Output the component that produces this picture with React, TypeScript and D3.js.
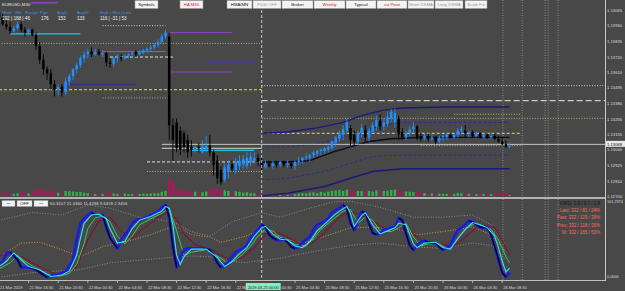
import React from "react";
import * as d3 from "d3";

// ---------- DATA ----------
const opens = [
  1.1405, 1.1401, 1.1396, 1.1394, 1.1391, 1.1393, 1.1396, 1.1392, 1.139, 1.1392,
  1.1388, 1.138, 1.137, 1.1363, 1.136, 1.1352, 1.1348, 1.135, 1.1346, 1.1354,
  1.1358, 1.1363, 1.1366, 1.1371, 1.1374, 1.1376, 1.1374, 1.1376, 1.1374, 1.1375,
  1.1368, 1.1367, 1.1371, 1.1372, 1.1371, 1.1373, 1.1374, 1.1376, 1.1374, 1.1375,
  1.1377, 1.1378, 1.1379, 1.1381, 1.1383, 1.1387, 1.1387, 1.1322, 1.1324, 1.1318,
  1.1316, 1.1311, 1.1306, 1.1304, 1.1306, 1.1302, 1.1304, 1.1307, 1.1302, 1.1296,
  1.1289, 1.1282, 1.1288, 1.1293, 1.1289, 1.1292, 1.1293, 1.1292, 1.1295, 1.1296,
  1.1298, 1.1295, 1.1291, 1.1294, 1.1292, 1.1294, 1.1293, 1.1295, 1.1293, 1.1294,
  1.1292, 1.1295, 1.1296, 1.1298, 1.1298, 1.13, 1.1301, 1.1303, 1.1303, 1.1304,
  1.1305, 1.1309, 1.1312, 1.1315, 1.1318, 1.132, 1.1315, 1.131, 1.1316, 1.1318,
  1.1313, 1.1317, 1.1321, 1.1325, 1.1321, 1.1323, 1.1327, 1.1324, 1.1327, 1.1317,
  1.1313, 1.1316, 1.1319, 1.1321, 1.1314, 1.1312, 1.1314, 1.1312, 1.1313, 1.131,
  1.1313, 1.1313, 1.1315, 1.1313, 1.1315, 1.1318, 1.1318, 1.1316, 1.1317, 1.1314,
  1.1316, 1.1313, 1.1315, 1.1313, 1.1314, 1.1312, 1.131, 1.1308, 1.1306,
];
const highs = [
  1.1408, 1.1404, 1.1399, 1.1398, 1.1395, 1.1398, 1.1398, 1.1394, 1.1393, 1.1393,
  1.139, 1.1383, 1.1374, 1.1365, 1.1363, 1.1355, 1.1352, 1.1352, 1.1357, 1.136,
  1.1364, 1.1368, 1.1373, 1.1376, 1.1378, 1.1379, 1.1378, 1.1378, 1.1377, 1.1376,
  1.1371, 1.1372, 1.1374, 1.1374, 1.1374, 1.1375, 1.1376, 1.1377, 1.1377, 1.1378,
  1.1379, 1.1381, 1.1382, 1.1385, 1.1389, 1.1392, 1.139, 1.1327, 1.1327, 1.1321,
  1.1318, 1.1315, 1.1311, 1.1307, 1.1309, 1.1311, 1.1314, 1.1315, 1.1304, 1.13,
  1.1292, 1.1294, 1.1296, 1.1296, 1.1298, 1.13, 1.13, 1.1302, 1.1302, 1.1302,
  1.1301, 1.1298, 1.1296, 1.1296, 1.1296, 1.1296, 1.1296, 1.1296, 1.1296, 1.1296,
  1.1296, 1.1299, 1.1299, 1.1301, 1.1301, 1.1303, 1.1304, 1.1305, 1.1306, 1.1307,
  1.1311, 1.1314, 1.1318, 1.1322, 1.1327, 1.1322, 1.1318, 1.1318, 1.1323, 1.1322,
  1.132, 1.1324, 1.1329, 1.133, 1.1327, 1.1332, 1.1334, 1.1334, 1.1329, 1.132,
  1.1318, 1.1321, 1.1324, 1.1322, 1.1316, 1.1316, 1.1316, 1.1315, 1.1314, 1.1314,
  1.1315, 1.1316, 1.1316, 1.1316, 1.132, 1.1321, 1.1322, 1.1318, 1.1318, 1.1317,
  1.1317, 1.1316, 1.1316, 1.1316, 1.1316, 1.1314, 1.1313, 1.1311, 1.1309,
];
const lows = [
  1.1399, 1.1395, 1.1392, 1.1389, 1.139, 1.1392, 1.139, 1.1387, 1.1388, 1.1387,
  1.1377, 1.1367, 1.1359, 1.1355, 1.1348, 1.1343, 1.1344, 1.1343, 1.1344, 1.1351,
  1.1355, 1.136, 1.1364, 1.1368, 1.1371, 1.1372, 1.1373, 1.1373, 1.1372, 1.1365,
  1.1364, 1.1365, 1.1368, 1.1369, 1.137, 1.1371, 1.1372, 1.1372, 1.1373, 1.1374,
  1.1375, 1.1376, 1.1378, 1.1379, 1.1382, 1.1385, 1.1311, 1.1296, 1.1302, 1.13,
  1.1302, 1.1298, 1.1299, 1.1302, 1.1302, 1.1301, 1.1302, 1.1299, 1.1285, 1.1279,
  1.1278, 1.128, 1.1283, 1.1288, 1.1286, 1.1289, 1.129, 1.129, 1.1292, 1.1294,
  1.1292, 1.1289, 1.129, 1.1291, 1.129, 1.1291, 1.1291, 1.1291, 1.1291, 1.129,
  1.1289, 1.1293, 1.1294, 1.1296, 1.1295, 1.1298, 1.1299, 1.13, 1.1301, 1.1302,
  1.1304, 1.1306, 1.131, 1.1311, 1.1316, 1.1307, 1.1307, 1.1308, 1.1313, 1.131,
  1.131, 1.1316, 1.1318, 1.1318, 1.1318, 1.1321, 1.1324, 1.132, 1.1311, 1.1311,
  1.1311, 1.1314, 1.1316, 1.1311, 1.131, 1.1311, 1.131, 1.131, 1.1308, 1.1309,
  1.131, 1.1311, 1.1312, 1.1312, 1.1313, 1.1315, 1.1313, 1.1313, 1.1313, 1.1313,
  1.1312, 1.1312, 1.1312, 1.1312, 1.1311, 1.1309, 1.1307, 1.1305, 1.1305,
];
const closes = [
  1.1401, 1.1396, 1.1394, 1.1391, 1.1393, 1.1396, 1.1392, 1.139, 1.1392, 1.1388,
  1.138, 1.137, 1.1363, 1.136, 1.1352, 1.1348, 1.135, 1.1346, 1.1354, 1.1358,
  1.1363, 1.1366, 1.1371, 1.1374, 1.1376, 1.1374, 1.1376, 1.1374, 1.1375, 1.1368,
  1.1367, 1.1371, 1.1372, 1.1371, 1.1373, 1.1374, 1.1375, 1.1374, 1.1376, 1.1377,
  1.1378, 1.1379, 1.1381, 1.1383, 1.1387, 1.139, 1.1322, 1.1311, 1.1305, 1.1304,
  1.1306, 1.1302, 1.1304, 1.1306, 1.1305, 1.1307, 1.1307, 1.1302, 1.1293, 1.1283,
  1.128, 1.1291, 1.1293, 1.129, 1.1295, 1.1296, 1.1297, 1.1298, 1.1299, 1.1298,
  1.1295, 1.1291, 1.1294, 1.1292, 1.1294, 1.1293, 1.1295, 1.1293, 1.1294, 1.1292,
  1.1295, 1.1296, 1.1298, 1.1299, 1.13, 1.1302, 1.1303, 1.1304, 1.1305, 1.1306,
  1.131, 1.1313, 1.1316, 1.1319, 1.1324, 1.1311, 1.131, 1.1316, 1.132, 1.1313,
  1.1318, 1.1322, 1.1326, 1.1321, 1.1324, 1.1328, 1.1332, 1.1331, 1.1315, 1.1313,
  1.1316, 1.1319, 1.1321, 1.1313, 1.1312, 1.1314, 1.1312, 1.1313, 1.131, 1.1313,
  1.1314, 1.1315, 1.1313, 1.1315, 1.1318, 1.1319, 1.1316, 1.1317, 1.1314, 1.1316,
  1.1313, 1.1315, 1.1313, 1.1314, 1.1312, 1.131, 1.1308, 1.1306, 1.13068,
];
const volumes = [
  150, 200, 180, 220, 140, 160, 250, 200, 150, 260,
  380, 420, 350, 300, 320, 280,
  200, 180, 300, 280, 260, 240, 230, 200, 180,
  150, 120, 140, 130, 200, 180, 150, 130, 120, 140, 110, 120, 130, 120, 140, 130, 150, 160, 170, 250, 300,
  1000, 850, 400, 350, 300, 320, 280, 250, 200, 220, 260, 380, 450, 420, 350, 330, 300, 260, 280, 250, 200, 220, 180, 160, 150, 100,
  60, 80, 70, 60, 90, 80, 70, 100, 120, 150, 180, 160, 200, 220, 180, 240, 200, 260,
  300, 320, 350, 300, 380, 360, 340, 300, 280, 320, 290, 260, 330, 350, 300, 310, 360, 380, 400,
  300, 260, 250, 230, 280, 220, 180, 170, 150, 160, 140, 130, 120, 110, 130, 180, 160, 150, 140, 120, 110, 130, 120, 100, 110, 140, 170, 200, 180, 60,
];

const priceTicks = [1.14065, 1.1395, 1.13835, 1.1372, 1.1361, 1.13495, 1.1338, 1.13265, 1.13155, 1.1304, 1.12925, 1.1281, 1.127];
const lastPrice = 1.13068;
const oscTopLabel = "101.2374";
const oscBottomLabel = "0.0000";

const timeLabels: [number, string][] = [
  [0, "21 Mar 2019"], [8, "21 Mar 16:30"], [16, "21 Mar 20:30"], [24, "22 Mar 00:30"],
  [32, "22 Mar 04:30"], [40, "22 Mar 08:30"], [48, "22 Mar 12:30"], [56, "22 Mar 16:30"],
  [80, "25 Mar 04:30"], [88, "25 Mar 08:30"],
  [96, "25 Mar 12:30"], [104, "25 Mar 16:30"], [112, "25 Mar 20:30"], [120, "26 Mar 00:30"],
  [128, "26 Mar 04:30"], [136, "26 Mar 08:30"],
];
// labels partly hidden behind the highlighted week-start label: visible fragments
const hiddenLabelBefore: [number, string] = [64, "22 M"];
const hiddenLabelAfter: [number, string] = [72, "00:30"];
const weekStartBar = 71;
const weekStartLabel = "2019.03.25 00:00";
const futureMarkers = [136.2, 141.4, 147.6, 148.4, 151.1];

const levels = [
  { price: 1.1412, from: 9, to: 16, kind: "purple" },
  { price: 1.1395, from: 28, to: 45, kind: "whiteDot" },
  { price: 1.139, from: 46, to: 63, kind: "purple" },
  { price: 1.1389, from: 3, to: 22, kind: "cyan" },
  { price: 1.1382, from: 0, to: 71, kind: "khakiDot" },
  { price: 1.1376, from: 28, to: 45, kind: "mauve" },
  { price: 1.1372, from: 30, to: 47, kind: "whiteDash" },
  { price: 1.1368, from: 55, to: 70, kind: "navyDash" },
  { price: 1.1361, from: 46, to: 63, kind: "purple" },
  { price: 1.1352, from: 19, to: 37, kind: "navy" },
  { price: 1.1351, from: 71, to: 164, kind: "whiteDot" },
  { price: 1.1348, from: 0, to: 71, kind: "yellowDash" },
  { price: 1.1342, from: 28, to: 46, kind: "grayDot" },
  { price: 1.134, from: 71, to: 164, kind: "longDash" },
  { price: 1.133, from: 123, to: 141, kind: "khakiDot" },
  { price: 1.1327, from: 71, to: 164, kind: "khakiDot" },
  { price: 1.1316, from: 71, to: 141, kind: "yellowDash" },
  { price: 1.1307, from: 114, to: 141, kind: "grayDot" },
  { price: 1.1305, from: 44, to: 71, kind: "white" },
  { price: 1.13035, from: 52, to: 69, kind: "cyan" },
  { price: 1.1295, from: 40, to: 71, kind: "whiteDash" },
  { price: 1.1288, from: 40, to: 71, kind: "khakiDot" },
];

const vwapUpper: [number, number][] = [[71, 1.1316], [78, 1.1317], [86, 1.132], [93, 1.1324], [98, 1.1329], [104, 1.1333], [109, 1.13346], [120, 1.13353], [138, 1.13353]];
const vwapMid: [number, number][] = [[71, 1.1295], [78, 1.1295], [84, 1.1296], [90, 1.1302], [95, 1.1306], [100, 1.131], [106, 1.1312], [115, 1.1313], [138, 1.1313]];
const vwapLower: [number, number][] = [[71, 1.127], [78, 1.1272], [88, 1.1277], [95, 1.1283], [101, 1.1288], [109, 1.129], [138, 1.129]];
const vwapUpperInner: [number, number][] = [[71, 1.1306], [78, 1.1306], [86, 1.1308], [93, 1.1313], [98, 1.1318], [104, 1.1322], [109, 1.1324], [138, 1.1324]];
const vwapLowerInner: [number, number][] = [[71, 1.1282], [78, 1.1283], [88, 1.1288], [95, 1.1294], [101, 1.1299], [109, 1.13], [138, 1.13]];

const fastLine: [number, number][] = [
  [0, 18], [1, 21], [2, 33], [3, 34], [5, 24], [6, 14], [8, 14], [9, 13], [10, 11], [12, 4], [13, 1], [14, 3], [16, 4], [17, 7], [18, 8],
  [20, 24], [21, 50], [22, 72], [24, 83], [25, 86], [26, 83], [28, 83], [29, 67], [30, 53], [32, 39], [33, 50], [35, 63], [36, 72],
  [37, 76], [39, 78], [40, 80], [41, 83], [43, 87], [44, 93], [45, 96], [46, 80], [47, 41], [48, 14], [49, 28], [50, 37], [51, 39],
  [55, 39], [57, 37], [58, 30], [59, 20], [60, 14], [62, 21], [63, 28], [64, 34], [66, 39], [67, 43], [68, 53], [70, 63], [71, 70],
  [72, 67], [73, 57], [74, 53], [75, 50], [76, 50], [77, 51], [78, 47], [79, 41], [80, 39], [81, 41], [82, 47], [84, 54], [85, 63],
  [86, 70], [88, 74], [89, 79], [90, 86], [92, 92], [93, 96], [94, 92], [95, 72], [96, 63], [97, 76], [98, 87], [99, 86], [100, 72],
  [101, 59], [102, 57], [103, 59], [104, 63], [106, 66], [107, 67], [108, 79], [109, 76], [110, 59], [111, 43], [112, 37], [113, 43],
  [114, 47], [115, 49], [116, 47], [118, 46], [119, 41], [120, 37], [122, 43], [123, 54], [124, 63], [126, 70], [127, 75], [128, 74],
  [129, 70], [130, 67], [132, 66], [133, 57], [134, 41], [135, 24], [136, 7], [137, 1], [138, 7],
];
const cyanLine: [number, number][] = [
  [0, 15], [2, 22], [4, 33], [6, 24], [8, 15], [11, 11], [14, 2], [17, 4], [19, 9], [21, 30], [22, 52], [23, 72], [25, 83], [27, 84],
  [29, 78], [30, 65], [32, 46], [34, 48], [36, 65], [38, 76], [41, 81], [44, 88], [45, 94], [46, 92], [47, 70], [48, 30], [49, 18],
  [50, 28], [52, 38], [56, 38], [59, 27], [61, 15], [63, 22], [65, 32], [67, 40], [69, 55], [71, 66], [72, 68], [74, 58], [76, 51],
  [78, 50], [80, 42], [82, 40], [84, 48], [86, 62], [88, 71], [90, 80], [92, 88], [94, 94], [95, 85], [96, 68], [98, 82], [99, 86],
  [101, 70], [103, 58], [105, 62], [107, 66], [108, 72], [110, 70], [112, 45], [113, 40], [115, 46], [118, 47], [120, 40], [122, 38],
  [124, 52], [126, 64], [128, 73], [130, 70], [132, 66], [134, 55], [135, 40], [136, 22], [137, 8], [138, 13],
];
const greenLine: [number, number][] = [
  [0, 12], [3, 20], [5, 30], [7, 22], [10, 13], [13, 5], [16, 2], [19, 6], [21, 18], [23, 45], [24, 65], [26, 79], [28, 82], [30, 74],
  [32, 55], [34, 45], [36, 55], [38, 70], [41, 78], [44, 85], [46, 92], [48, 62], [50, 30], [52, 34], [56, 37], [60, 26], [62, 18],
  [64, 24], [66, 32], [68, 42], [70, 55], [72, 64], [74, 62], [76, 54], [78, 50], [80, 44], [83, 42], [85, 52], [87, 64], [89, 72],
  [91, 80], [93, 88], [95, 90], [97, 72], [99, 80], [101, 76], [103, 62], [106, 61], [108, 66], [110, 72], [112, 54], [114, 42],
  [116, 45], [119, 45], [121, 39], [123, 45], [125, 58], [127, 68], [129, 72], [131, 68], [133, 64], [135, 50], [137, 28], [138, 20],
];
const maroonLine: [number, number][] = [
  [0, 30], [3, 30], [6, 28], [9, 20], [12, 12], [15, 6], [18, 5], [21, 15], [24, 50], [27, 75], [30, 80], [33, 62], [36, 52], [39, 65],
  [42, 76], [45, 86], [48, 78], [50, 58], [53, 44], [57, 38], [60, 30], [63, 22], [66, 28], [69, 40], [72, 58], [75, 60], [78, 54],
  [81, 46], [84, 44], [87, 55], [90, 70], [93, 84], [96, 86], [99, 80], [102, 72], [105, 62], [108, 66], [111, 62], [114, 50],
  [117, 47], [120, 44], [123, 42], [126, 54], [129, 66], [132, 69], [134, 66], [136, 50], [138, 30],
];
const oscUpperBand: [number, number][] = [
  [0, 76], [9, 86], [17, 83], [24, 96], [30, 92], [38, 80], [47, 74], [52, 61], [57, 55], [63, 74], [71, 86], [76, 80], [82, 89],
  [90, 100], [95, 101], [103, 93], [112, 80], [120, 80], [128, 83], [133, 70], [137, 43],
];
const oscMidBand: [number, number][] = [
  [0, 28], [6, 46], [11, 47], [17, 37], [22, 28], [28, 41], [36, 50], [41, 57], [46, 66], [49, 66], [52, 57], [57, 54], [60, 47],
  [66, 54], [71, 63], [76, 53], [82, 46], [87, 53], [95, 66], [101, 67], [109, 63], [113, 57], [120, 61], [128, 67], [133, 57], [137, 34],
];
const oscLowerBand: [number, number][] = [
  [0, 1], [9, 7], [22, 11], [30, 20], [44, 26], [52, 29], [57, 28], [66, 20], [76, 26], [84, 34], [95, 43], [103, 46], [112, 41],
  [120, 39], [128, 46], [133, 43], [137, 24],
];

const oscReadout = "60.3207 21.5360 11.4286 9.6459 2.3456";
const statsTitle = "V[M1]: 1.0 / 0.7 / 2.8";
const statsLines = ["Last: 332 / 81 / 24%", "Past: 332 / 129 / 39%", "Prev: 332 / 118 / 36%", "W: 332 / 165 / 50%"];
const symbolTitle = "EURUSD,M30";
const headerLabels = ["Mnth", "Wk", "Range", "Pips", "AvgD", "AvgW", "High | Mid | Low"];
const headerValues = ["192 | 168 | 46", "176", "153", "133", "116 | -31 | 53"];
const buttons = [
  { label: "Symbols", tone: "on" }, { label: "HA M30", tone: "red" }, { label: "HMA/MN", tone: "on" },
  { label: "F500 OFF", tone: "off" }, { label: "Broker", tone: "on" }, { label: "Weekly", tone: "red" },
  { label: "Typical", tone: "on" }, { label: "ssl Pivot", tone: "red" }, { label: "Short DSMA", tone: "off" },
  { label: "Long DSMA", tone: "off" }, { label: "Scale Fix", tone: "off" },
];

// ---------- STYLE ----------
const BG = "#484848";
const FONT = "'Liberation Sans', Arial, sans-serif";
const BULL = "#1e90ff";
const BEAR = "#000000";
const kindStyle: Record<string, { stroke: string; dash?: string; w?: number }> = {
  purple: { stroke: "#8e44c8" },
  whiteDot: { stroke: "#cfcfcf", dash: "1,1.6" },
  cyan: { stroke: "#1ac8e8", w: 1.2 },
  khakiDot: { stroke: "#bdb56e", dash: "1,1.6" },
  mauve: { stroke: "#a05a9a" },
  whiteDash: { stroke: "#e2e2e2", dash: "3,2" },
  navyDash: { stroke: "#3a3ab0", dash: "3,2" },
  navy: { stroke: "#2a2a9a" },
  yellowDash: { stroke: "#e4e436", dash: "3,2" },
  grayDot: { stroke: "#a0a0a0", dash: "1,1.6" },
  longDash: { stroke: "#cccccc", dash: "6,3", w: 1.3 },
  white: { stroke: "#d8d8d8" },
};
const toneColor: Record<string, string> = { on: "#111", red: "#e2201c", off: "#9a9a9a" };
const btnLayout = [[135, 23], [180, 23], [227, 25], [253, 28], [282, 31], [314, 31], [346, 30], [377, 30], [408, 26], [435, 28], [465, 22]];
const headerLabelX = [2, 15, 25, 40, 57, 77, 100];
const headerValueX = [2, 41, 58, 77, 100];

export default function App() {
  const PLOT_R = 605;
  const x = d3.scaleLinear().domain([0, 100]).range([-1, 369]);
  const y = d3.scaleLinear().domain([1.127, 1.14065]).range([196, 10]);
  const yo = d3.scaleLinear().domain([0, 100]).range([278, 202]);
  const yv = d3.scaleLinear().domain([0, 1000]).range([196, 179]);
  const lineP = d3.line<[number, number]>().x((d) => x(d[0])).y((d) => y(d[1]));
  const lineO = d3.line<[number, number]>().x((d) => x(d[0])).y((d) => yo(d[1]));
  const bw = 2.5;
  const wsX = x(weekStartBar);
  const boxL = wsX - 16;
  const boxR = wsX + 19;

  return (
    <svg width={625} height={291} style={{ position: "absolute", left: 0, top: 0, display: "block", background: BG }} fontFamily={FONT}>
      <defs>
        <clipPath id="mainClip"><rect x={0} y={0} width={PLOT_R} height={197} /></clipPath>
        <clipPath id="oscClip"><rect x={0} y={199} width={PLOT_R} height={81} /></clipPath>
      </defs>
      <rect x={0} y={0} width={625} height={291} fill={BG} />

      {/* ----- MAIN PANE ----- */}
      <g clipPath="url(#mainClip)">
        {futureMarkers.map((b, i) => (
          <line key={"fm" + i} x1={x(b)} x2={x(b)} y1={0} y2={197} stroke="#9c9c9c" strokeDasharray="1,1.5" strokeWidth={0.8} />
        ))}
        {volumes.map((v, i) => (
          <rect key={"v" + i} x={x(i) - 1.2} y={yv(v)} width={2.4} height={196 - yv(v)} fill={closes[i] >= opens[i] ? "#2fb24c" : "#b0155c"} />
        ))}
        {levels.map((l, i) => {
          const s = kindStyle[l.kind];
          return (
            <line key={"l" + i} x1={x(l.from)} x2={x(l.to)} y1={y(l.price)} y2={y(l.price)} stroke={s.stroke} strokeWidth={s.w || 1} strokeDasharray={s.dash} />
          );
        })}
        <path d={lineP(vwapUpper) || ""} fill="none" stroke="#1a1a78" strokeWidth={1.4} />
        <path d={lineP(vwapLower) || ""} fill="none" stroke="#1a1a78" strokeWidth={1.4} />
        <path d={lineP(vwapUpperInner) || ""} fill="none" stroke="#2c2c8c" strokeWidth={1} strokeDasharray="3,2" />
        <path d={lineP(vwapLowerInner) || ""} fill="none" stroke="#2c2c8c" strokeWidth={1} strokeDasharray="3,2" />
        <path d={lineP(vwapMid) || ""} fill="none" stroke="#0a0a20" strokeWidth={1.4} />
        <line x1={x(44)} x2={PLOT_R} y1={y(lastPrice) - 1.5} y2={y(lastPrice) - 1.5} stroke="#c4c4c4" strokeWidth={1} />
        {opens.map((o, i) => {
          const c = closes[i];
          const col = c >= o ? BULL : BEAR;
          const top = y(Math.max(o, c));
          const bot = y(Math.min(o, c));
          return (
            <g key={"c" + i}>
              <line x1={x(i)} x2={x(i)} y1={y(highs[i])} y2={y(lows[i])} stroke={col} strokeWidth={0.9} />
              <rect x={x(i) - bw / 2} y={top} width={bw} height={Math.max(1, bot - top)} fill={col} />
            </g>
          );
        })}
      </g>

      <line x1={wsX} x2={wsX} y1={0} y2={281} stroke="#b9d3bd" strokeDasharray="3,2" strokeWidth={1} />

      {/* header texts */}
      <text x={2} y={6} fontSize={4.4} fill="#e0e0e0">{symbolTitle}</text>
      <line x1={x(8.4)} x2={x(15.6)} y1={3} y2={3} stroke="#8e44c8" />
      {headerLabels.map((t, i) => (
        <text key={"hl" + i} x={headerLabelX[i]} y={14} fontSize={4.4} fill="#3d8fe0">{t}</text>
      ))}
      {headerValues.map((t, i) => (
        <text key={"hv" + i} x={headerValueX[i]} y={20} fontSize={4.6} fill="#f0f0f0">{t}</text>
      ))}
      {buttons.map((b, i) => {
        const [bx, bwid] = btnLayout[i];
        return (
          <g key={"b" + i}>
            <rect x={bx} y={0.5} width={bwid} height={8} fill="#f3f3f3" stroke="#9a9a9a" strokeWidth={0.5} />
            <text x={bx + bwid / 2} y={6.2} fontSize={4.3} textAnchor="middle" fill={toneColor[b.tone]}>{b.label}</text>
          </g>
        );
      })}

      {/* ----- OSC PANE ----- */}
      <rect x={0} y={197} width={PLOT_R} height={2} fill="#b4b4b4" />
      <g clipPath="url(#oscClip)">
        {futureMarkers.map((b, i) => (
          <line key={"fo" + i} x1={x(b)} x2={x(b)} y1={199} y2={281} stroke="#9c9c9c" strokeDasharray="1,1.5" strokeWidth={0.8} />
        ))}
        <path d={lineO(oscUpperBand) || ""} fill="none" stroke="#9a9a9a" strokeWidth={0.8} strokeDasharray="1,1.6" />
        <path d={lineO(oscLowerBand) || ""} fill="none" stroke="#9a9a9a" strokeWidth={0.8} strokeDasharray="1,1.6" />
        <path d={lineO(oscMidBand) || ""} fill="none" stroke="#d9a03a" strokeWidth={0.9} strokeDasharray="1,1.6" />
        <path d={lineO(maroonLine) || ""} fill="none" stroke="#7c1634" strokeWidth={1.2} />
        <path d={lineO(greenLine) || ""} fill="none" stroke="#33cc55" strokeWidth={1} />
        <path d={lineO(fastLine) || ""} fill="none" stroke="#1c1cdc" strokeWidth={2.8} strokeLinejoin="round" />
        {fastLine.slice(0, -1).map((p, k) => {
          const q = fastLine[k + 1];
          return q[1] < p[1] ? (
            <line key={"fd" + k} x1={x(p[0])} x2={x(q[0])} y1={yo(p[1])} y2={yo(q[1])} stroke="#000" strokeWidth={1.2} />
          ) : null;
        })}
        <path d={lineO(cyanLine) || ""} fill="none" stroke="#2ee6ff" strokeWidth={1.1} />
      </g>
      <rect x={2} y={200.5} width={13} height={6} fill="#f3f3f3" stroke="#999" strokeWidth={0.4} />
      <text x={8.5} y={205} fontSize={3.8} textAnchor="middle" fill="#3d6fc0">•••</text>
      <rect x={17} y={200.5} width={15} height={6} fill="#f3f3f3" stroke="#999" strokeWidth={0.4} />
      <text x={24.5} y={205.2} fontSize={4.4} textAnchor="middle" fill="#111">OFF</text>
      <rect x={34} y={200.5} width={14} height={6} fill="#f3f3f3" stroke="#999" strokeWidth={0.4} />
      <text x={41} y={205} fontSize={3.8} textAnchor="middle" fill="#3d6fc0">•••</text>
      <text x={50} y={205.3} fontSize={4.3} fill="#dcdcdc">{oscReadout}</text>
      <text x={600} y={205} fontSize={4.5} textAnchor="end" fill="#111">{statsTitle}</text>
      {statsLines.map((t, i) => (
        <text key={"st" + i} x={600} y={212 + i * 7.3} fontSize={4.5} textAnchor="end" fill="#ff6a55">{t}</text>
      ))}
      <line x1={0} x2={PLOT_R} y1={280.5} y2={280.5} stroke="#bdbdbd" strokeWidth={1} />

      {/* ----- PRICE AXIS ----- */}
      <line x1={PLOT_R + 0.5} x2={PLOT_R + 0.5} y1={0} y2={281} stroke="#c8c8c8" strokeWidth={1} />
      {priceTicks.map((p, i) => (
        <text key={"pt" + i} x={607} y={y(p) + 1.5} fontSize={4.2} fill="#dedede">{p.toFixed(5)}</text>
      ))}
      <rect x={PLOT_R + 1} y={y(lastPrice) - 5} width={19} height={6} fill="#e8e8e8" />
      <text x={607} y={y(lastPrice)} fontSize={4.2} fill="#111">{lastPrice.toFixed(5)}</text>
      <text x={607} y={202.5} fontSize={3.8} fill="#dedede">{oscTopLabel}</text>
      <text x={607} y={278} fontSize={3.8} fill="#dedede">{oscBottomLabel}</text>

      {/* ----- TIME AXIS ----- */}
      {timeLabels.map(([b, t], i) => (
        <g key={"tl" + i}>
          <line x1={x(b)} x2={x(b)} y1={281} y2={283} stroke="#c8c8c8" strokeWidth={0.8} />
          <text x={x(b) + 1} y={289} fontSize={4} fill="#dcdcdc">{t}</text>
        </g>
      ))}
      <line x1={x(hiddenLabelBefore[0])} x2={x(hiddenLabelBefore[0])} y1={281} y2={283} stroke="#c8c8c8" strokeWidth={0.8} />
      <text x={x(hiddenLabelBefore[0]) + 1} y={289} fontSize={4} fill="#dcdcdc">{hiddenLabelBefore[1]}</text>
      <text x={boxR + 0.8} y={289} fontSize={4} fill="#dcdcdc">{hiddenLabelAfter[1]}</text>
      <rect x={boxL} y={283} width={boxR - boxL} height={7} fill="#7ff0c0" />
      <text x={(boxL + boxR) / 2} y={288.6} fontSize={4} textAnchor="middle" fill="#111">{weekStartLabel}</text>
    </svg>
  );
}
